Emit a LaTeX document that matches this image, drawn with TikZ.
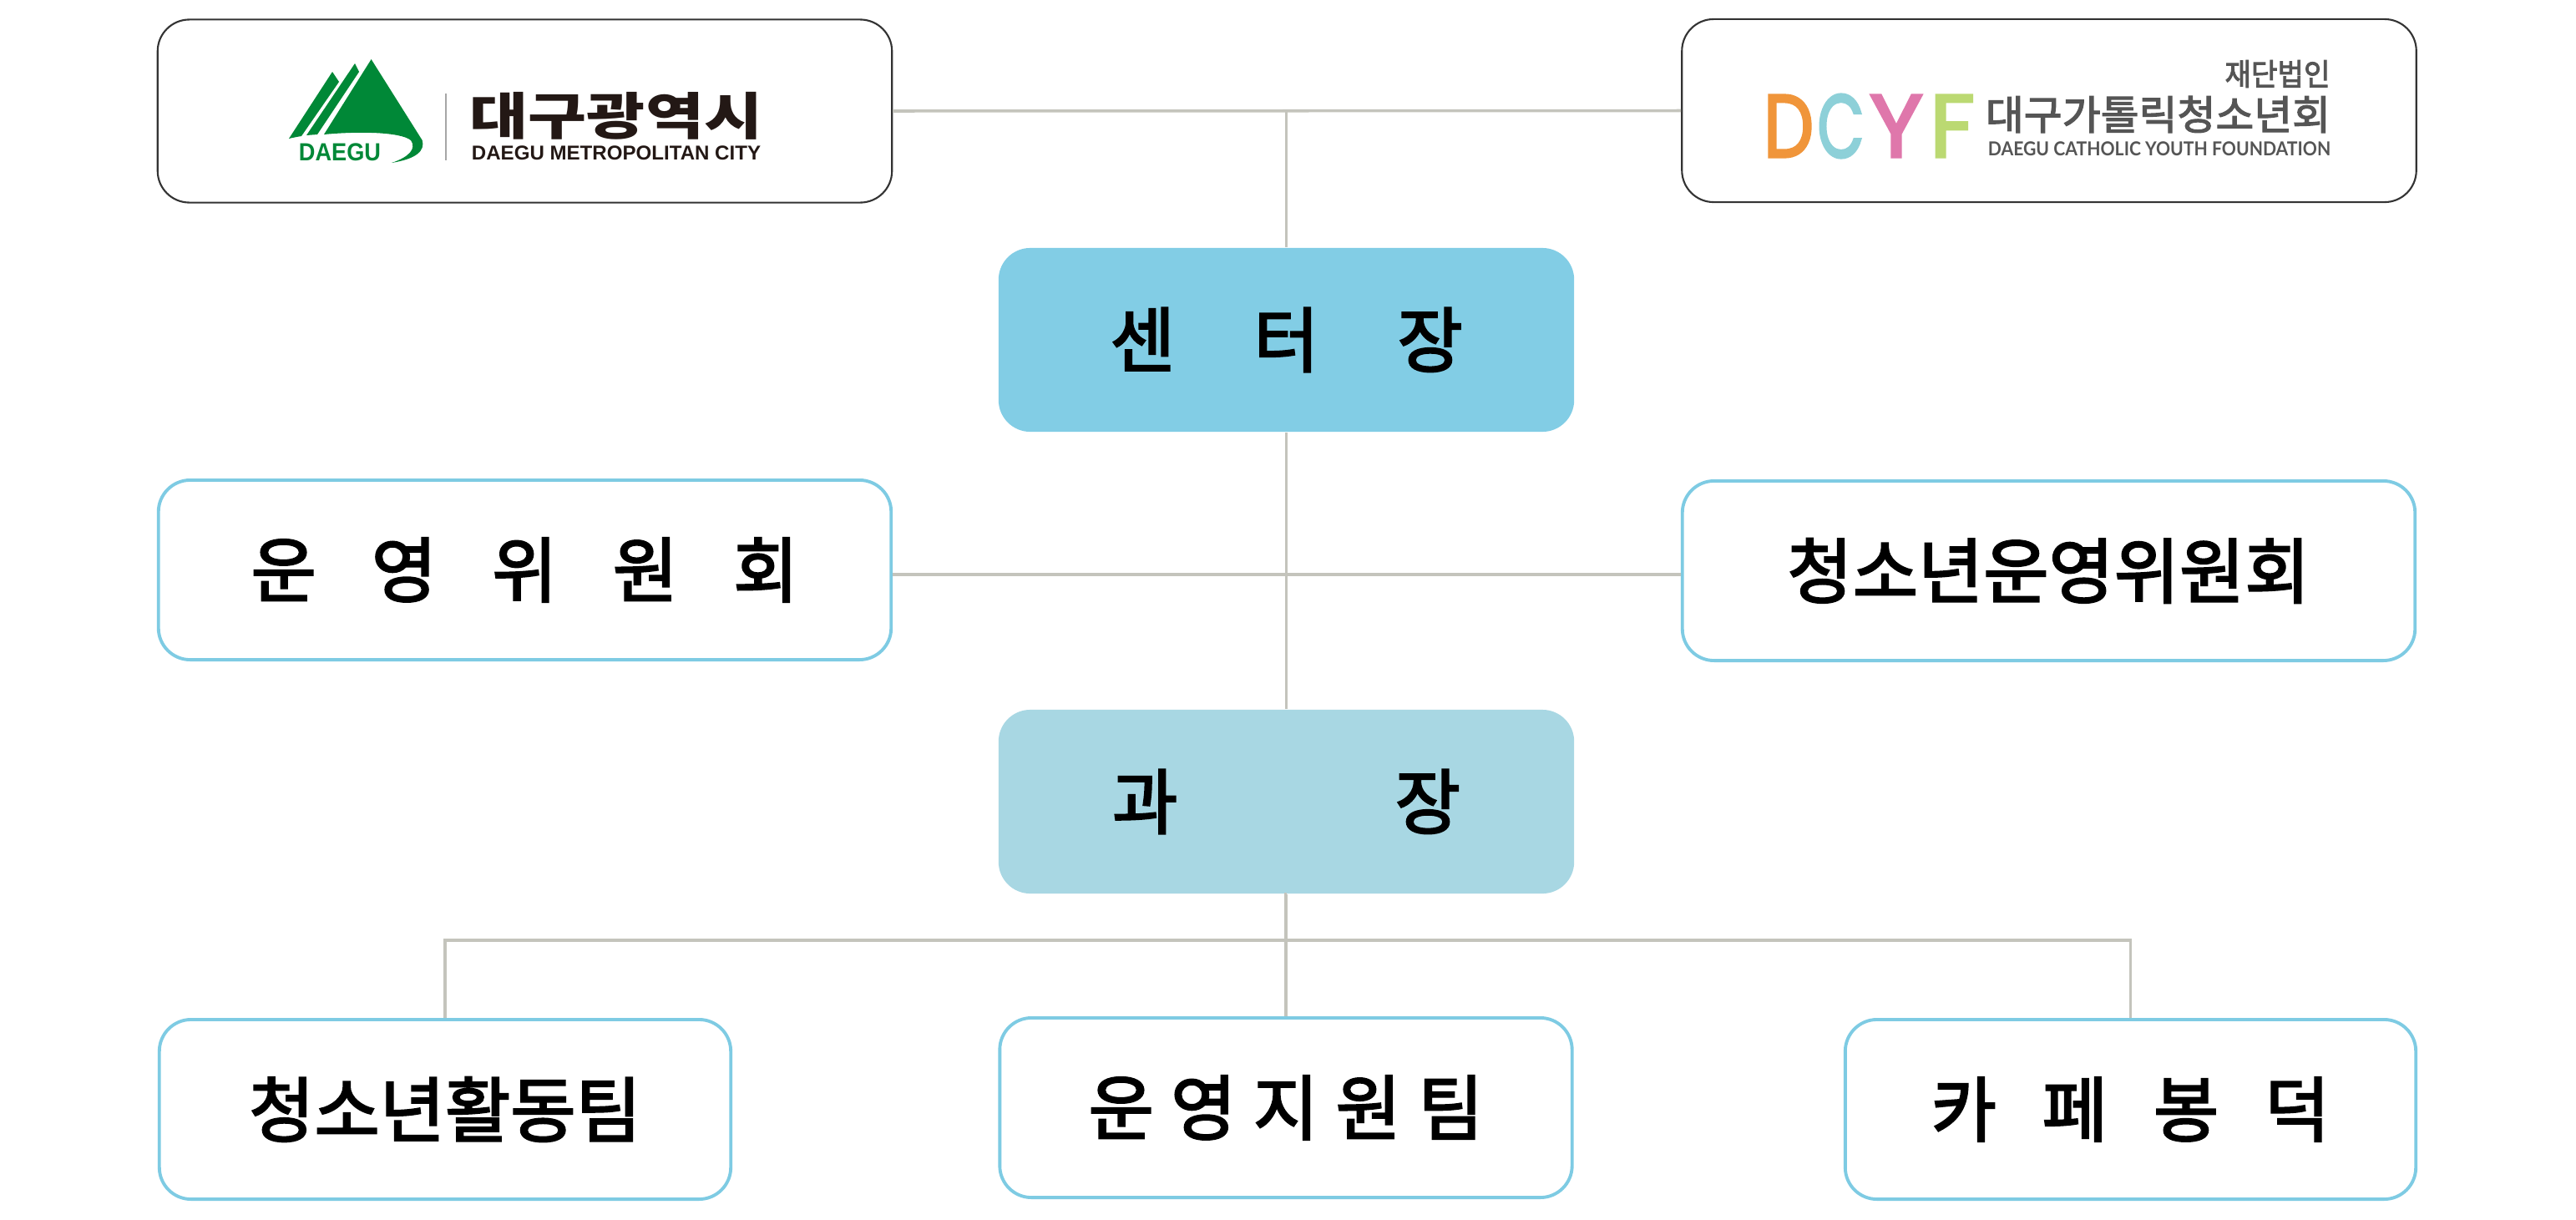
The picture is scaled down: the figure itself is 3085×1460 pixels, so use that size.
\documentclass[tikz,border=0pt]{standalone}
\usepackage{fontspec}
\setmainfont{Liberation Sans}
\newfontfamily\krfont[FakeBold=2.6]{Noto Sans CJK KR}
\newfontfamily\krbold{Noto Sans CJK KR}
\newfontfamily\latofont{Lato}
\newfontfamily\popfont[FakeBold=3]{Poppins}

\definecolor{linegray}{HTML}{C4C4BC}
\definecolor{headblue}{HTML}{82CDE5}
\definecolor{subblue}{HTML}{A8D7E3}
\definecolor{edgeblue}{HTML}{7ECBE3}
\definecolor{logoedge}{HTML}{333333}
\definecolor{daegugreen}{HTML}{008837}
\definecolor{logoblack}{HTML}{231815}
\definecolor{logogray}{HTML}{555555}
\definecolor{letterorange}{HTML}{F0953A}
\definecolor{letterteal}{HTML}{8DD0D8}
\definecolor{letterpink}{HTML}{DF77AB}
\definecolor{lettergreen}{HTML}{BBD972}

\newcommand{\fitbox}[3]{\resizebox*{#1cm}{#2cm}{#3}}
\newcommand{\gaps}[1]{\spaceskip=#1pt\relax}

\tikzset{
  plate/.style={rectangle, rounded corners=0.38cm, inner sep=0pt},
  logobox/.style={plate, draw=logoedge, line width=0.6pt, minimum width=8.79cm, minimum height=2.19cm},
  headbox/.style={plate, fill=headblue, text=black, minimum width=6.89cm, minimum height=2.2cm, font=\krfont\fontsize{24.2}{24.2}\selectfont},
  unitbox/.style={plate, fill=white, draw=edgeblue, line width=1.1pt, minimum height=2.15cm, font=\krfont\fontsize{24.2}{24.2}\selectfont},
  link/.style={draw=linegray, line width=1pt},
  logotext/.style={inner sep=0pt, outer sep=0pt}
}

\begin{document}
\begin{tikzpicture}[x=0.01cm,y=-0.01cm]

  \useasboundingbox (0,0) rectangle (3085,1460);

  \node[logobox] (cityLogo) at (628.5,133) {};
  \node[logobox] (youthLogo) at (2454,132.5) {};

  \node[headbox] (directorBox) at (1540.5,407) {\gaps{26.7}센 터 장};
  \node[headbox, fill=subblue] (managerBox) at (1540.5,960) {\gaps{74}과 장};

  \node[unitbox, minimum width=8.77cm] (opsBoard) at (628.5,682.5) {\gaps{18.8}운 영 위 원 회};
  \node[unitbox, minimum width=8.77cm] (youthBoard) at (2453.5,683.5) {청소년운영위원회};

  \node[unitbox, minimum width=6.84cm] (youthTeam) at (533,1328.5) {청소년활동팀};
  \node[unitbox, minimum width=6.85cm] (supportTeam) at (1540,1326.5) {\gaps{5.8}운 영 지 원 팀};
  \node[unitbox, minimum width=6.83cm] (cafeTeam) at (2551.5,1328.5) {\gaps{15.6}카 페 봉 덕};

  \coordinate (boardLine) at (1541,688);
  \coordinate (teamLine) at (1541,1126);

  \draw[link] (cityLogo.east) -- (youthLogo.west);
  \draw[link] (directorBox.north) -- (directorBox.north |- cityLogo.east);
  \draw[link] (directorBox.south) -- (managerBox.north);
  \draw[link] (boardLine -| opsBoard.east) -- (boardLine -| youthBoard.west);
  \draw[link] (managerBox.south) -- (managerBox.south -| supportTeam.north) -- (supportTeam.north);
  \draw[link] (youthTeam.north) -- (youthTeam.north |- teamLine) -- (cafeTeam.north |- teamLine) -- (cafeTeam.north);

  % city logo
  \fill[daegugreen] (444.6,71) -- (505.7,168) .. controls (509,180) and (500,190) .. (469,195)
    .. controls (490,188) and (499,178) .. (492,168) .. controls (480,158) and (430,157) .. (388,161) -- cycle;
  \fill[daegugreen] (425,76) -- (430,86) -- (380,161) -- (367,162) -- cycle;
  \fill[daegugreen] (398,86) -- (406,98) -- (361,163) .. controls (355,164) and (350,165) .. (346,166) -- cycle;
  \node[logotext, text=daegugreen] (daeguMark) at (407,182.5) {\fitbox{0.98}{0.21}{\textbf{DAEGU}}};
  \draw[draw=gray!70, line width=0.7pt] (534,112) -- (534,192);
  \node[logotext, text=logoblack] (cityName) at (738,138.5) {\fitbox{3.5}{0.57}{\krbold\bfseries 대구광역시}};
  \node[logotext, text=logoblack] (cityNameEn) at (738,183.5) {\fitbox{3.46}{0.17}{\textbf{DAEGU METROPOLITAN CITY}}};

  % youth logo
  \node[logotext, text=letterorange] (letterD) at (2142,151) {\fitbox{0.6}{0.74}{\popfont D}};
  \node[logotext, text=letterteal] (letterC) at (2204.5,151) {\fitbox{0.56}{0.76}{\popfont C}};
  \node[logotext, text=letterpink] (letterY) at (2271,151) {\fitbox{0.64}{0.74}{\popfont Y}};
  \node[logotext, text=lettergreen] (letterF) at (2338,151) {\fitbox{0.54}{0.74}{\popfont F}};
  \node[logotext, text=logogray] (youthLegal) at (2727.5,88.5) {\fitbox{1.26}{0.33}{\krfont 재단법인}};
  \node[logotext, text=logogray] (youthName) at (2584.5,137) {\fitbox{4.13}{0.44}{\krfont 대구가톨릭청소년회}};
  \node[logotext, text=logogray] (youthNameEn) at (2586,178.5) {\fitbox{4.1}{0.17}{\latofont\bfseries DAEGU CATHOLIC YOUTH FOUNDATION}};

\end{tikzpicture}
\end{document}
